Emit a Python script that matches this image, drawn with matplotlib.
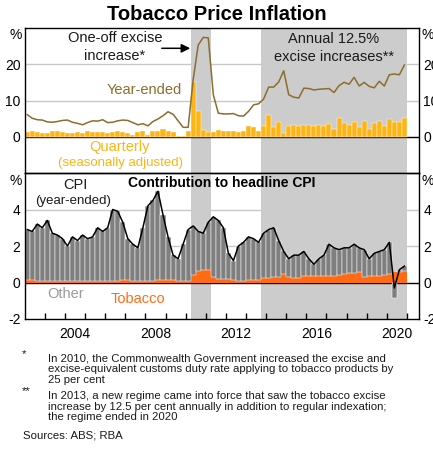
import numpy as np
import matplotlib
matplotlib.use('Agg')
import matplotlib.pyplot as plt
from matplotlib.patches import FancyArrowPatch

plt.rcParams['font.family'] = ['Liberation Sans', 'DejaVu Sans']
plt.rcParams['axes.unicode_minus'] = False

# ---------------- data (quarterly, Mar-2002 .. Dec-2020) ----------------
start_year = 2002
tob_quarterly = [
    1.3, 1.5, 1.3, 1.0, 0.9, 1.5, 1.6, 1.2, 1.0, 0.9, 1.2, 1.0,
    1.7, 1.3, 1.2, 1.2, 1.1, 1.4, 1.5, 1.2, 0.9, 0.6, 1.2, 1.6,
    0.6, 1.7, 1.7, 2.2, 1.5, 1.3, 0.1, 0.1, 1.6, 15.2, 7.2, 1.9,
    1.4, 1.3, 2.0, 1.7, 1.5, 1.5, 1.4, 1.6, 3.0, 2.8, 1.5, 3.0,
    6.1, 2.8, 4.2, 1.1, 3.1, 3.3, 3.1, 3.2, 3.2, 3.1, 3.2, 3.0,
    3.6, 2.1, 5.1, 3.9, 3.2, 4.1, 2.8, 4.3, 2.2, 3.8, 4.4, 3.1,
    5.0, 4.0, 4.1, 5.3]
tob_year_ended = [
    6.1, 5.1, 4.7, 4.6, 4.1, 4.0, 4.2, 4.5, 4.6, 4.0, 3.7, 3.3,
    3.9, 4.4, 4.3, 4.7, 3.9, 4.0, 4.4, 4.6, 4.5, 3.9, 3.3, 3.6,
    3.0, 4.2, 4.9, 5.8, 6.9, 6.2, 4.4, 2.6, 2.6, 15.8, 25.3, 27.4,
    27.3, 11.6, 6.5, 6.3, 6.3, 6.4, 5.8, 5.7, 7.0, 8.8, 9.1, 10.4,
    13.7, 13.7, 15.1, 18.2, 11.6, 10.9, 10.7, 13.4, 13.3, 12.9, 13.1, 13.2,
    13.3, 12.2, 14.1, 15.0, 14.5, 16.4, 14.0, 15.0, 13.9, 13.5, 15.3, 14.0,
    17.1, 17.3, 17.1, 19.8]
cpi_year_ended = [
    2.9, 2.8, 3.2, 3.0, 3.4, 2.7, 2.6, 2.4, 2.0, 2.5, 2.3, 2.6,
    2.4, 2.5, 3.0, 2.8, 3.0, 4.0, 3.9, 3.3, 2.4, 2.1, 1.9, 3.0,
    4.2, 4.5, 5.0, 3.7, 2.5, 1.5, 1.3, 2.1, 2.9, 3.1, 2.8, 2.7,
    3.3, 3.6, 3.4, 3.0, 1.6, 1.2, 2.0, 2.2, 2.5, 2.4, 2.2, 2.7,
    2.9, 3.0, 2.3, 1.7, 1.3, 1.5, 1.5, 1.7, 1.3, 1.0, 1.3, 1.5,
    2.1, 1.9, 1.8, 1.9, 1.9, 2.1, 1.9, 1.8, 1.3, 1.6, 1.7, 1.8,
    2.2, -0.3, 0.7, 0.9]
tob_contribution = [
    0.13, 0.11, 0.10, 0.10, 0.09, 0.09, 0.09, 0.10, 0.10, 0.09, 0.09, 0.08,
    0.09, 0.10, 0.10, 0.10, 0.09, 0.09, 0.10, 0.11, 0.11, 0.09, 0.08, 0.08,
    0.07, 0.10, 0.12, 0.14, 0.16, 0.15, 0.10, 0.06, 0.06, 0.40, 0.63, 0.69,
    0.69, 0.30, 0.17, 0.17, 0.17, 0.16, 0.09, 0.09, 0.13, 0.13, 0.15, 0.22,
    0.24, 0.30, 0.30, 0.44, 0.28, 0.27, 0.27, 0.36, 0.36, 0.36, 0.37, 0.38,
    0.38, 0.36, 0.40, 0.44, 0.50, 0.54, 0.60, 0.32, 0.37, 0.35, 0.36, 0.40,
    0.46, 0.55, 0.60, 0.65]
x_tick_years = list(range(2003, 2022))
x_label_years = [2004, 2008, 2012, 2016, 2020]
shade_periods = [(2010.25, 2011.25), (2013.75, 2021.0)]
top_yticks = [0, 10, 20]
bot_yticks = [-2, 0, 2, 4]

# ---------------- styling ----------------
GOLD = '#FDB515'
OLIVE = '#8C6D2C'
ORANGE = '#FF6B14'
GREY = '#7F7F7F'
SHADE = '#CCCCCC'
GRID = '#C8C8C8'
TXT = '#1a1a1a'

W, H = 433, 453
fig = plt.figure(figsize=(W / 100, H / 100), dpi=100)

def fx(px):
    return px / W

def fy(py):
    return 1 - py / H

L, R = 24.7, 419.0
ax1 = fig.add_axes([fx(L), fy(173), fx(R) - fx(L), fy(28) - fy(173)])
ax2 = fig.add_axes([fx(L), fy(319), fx(R) - fx(L), fy(173) - fy(319)])

n = len(tob_quarterly)
xq = start_year + 0.25 * np.arange(n)
xc = xq + 0.125

tobq = np.array(tob_quarterly)
tobye = np.array(tob_year_ended)
cpi = np.array(cpi_year_ended)
tobc = np.array(tob_contribution)
other = cpi - tobc

for ax, ylim, ticks, grids in [(ax1, (-10, 30), top_yticks, [10, 20]),
                               (ax2, (-2, 6), bot_yticks, [2, 4])]:
    ax.set_xlim(2002.0, 2021.6)
    ax.set_ylim(*ylim)
    for g in grids:
        ax.axhline(g, color=GRID, lw=1.0, zorder=0)
    for a, b in shade_periods:
        ax.axvspan(a, b, color=SHADE, lw=0, zorder=0.5)
    ax.axhline(0, color='black', lw=1.0, zorder=1)
    ax.set_yticks(ticks)
    ax.set_yticklabels([str(t) for t in ticks])
    ax.tick_params(axis='y', length=0, pad=3, labelsize=10, labelleft=True,
                   labelright=True, colors='black')
    for s in ax.spines.values():
        s.set_color('black')
        s.set_linewidth(1.0)
    ax.set_facecolor('none')

# top panel
ax1.bar(xq, tobq, width=0.25, align='edge', color=GOLD, edgecolor='white',
        linewidth=0.3, zorder=2)
ax1.plot(xc, tobye, color=OLIVE, lw=1.1, zorder=3)
ax1.tick_params(axis='x', which='both', length=0, labelbottom=False)

# bottom panel
ax2.bar(xq, tobc, width=0.25, align='edge', color=ORANGE, lw=0, zorder=2)
bottom_other = np.where(other >= 0, tobc, 0)
ax2.bar(xq, other, bottom=bottom_other, width=0.25, align='edge', color=GREY,
        edgecolor='white', linewidth=0.35, zorder=2)
ax2.plot(xc, cpi, color='black', lw=1.1, zorder=3)
ax2.set_xticks(x_tick_years)
ax2.set_xticklabels([])
ax2.set_xticks([y + 0.5 for y in x_label_years], minor=True)
ax2.set_xticklabels([str(y) for y in x_label_years], minor=True)
ax2.tick_params(axis='x', which='major', direction='in', length=4, width=1,
                color='black')
ax2.tick_params(axis='x', which='minor', length=0, pad=6, labelsize=10)

# % labels
for py in (35, 181.5):
    fig.text(fx(21.8), fy(py), '%', ha='right', va='center', fontsize=10)
    fig.text(fx(422.0), fy(py), '%', ha='left', va='center', fontsize=10)

# title
fig.text(0.5, fy(15), 'Tobacco Price Inflation', ha='center', va='center',
         fontsize=14.5, fontweight='bold', color='black')

# top annotations
fig.text(fx(115), fy(38), 'One-off excise', ha='center', va='center',
         fontsize=10.5, color=TXT)
fig.text(fx(115), fy(56.5), 'increase*', ha='center', va='center',
         fontsize=10.5, color=TXT)
arrow = FancyArrowPatch((fx(159), fy(48.3)), (fx(193), fy(48.3)),
                        transform=fig.transFigure, arrowstyle='-|>',
                        mutation_scale=13, color='black', lw=1.1)
fig.patches.append(arrow)
fig.text(fx(334), fy(39.3), 'Annual 12.5%', ha='center', va='center',
         fontsize=10.5, color=TXT)
fig.text(fx(334), fy(57.3), 'excise increases**', ha='center', va='center',
         fontsize=10.5, color=TXT)
fig.text(fx(143.8), fy(90), 'Year-ended', ha='center', va='center',
         fontsize=10.5, color=OLIVE)
fig.text(fx(120), fy(146.7), 'Quarterly', ha='center', va='center',
         fontsize=10.5, color=GOLD)
fig.text(fx(120.8), fy(163.3), '(seasonally adjusted)', ha='center',
         va='center', fontsize=9.5, color=GOLD)

# bottom annotations
fig.text(fx(221.7), fy(183.3), 'Contribution to headline CPI', ha='center',
         va='center', fontsize=10, fontweight='bold', color='black')
fig.text(fx(75), fy(185), 'CPI', ha='center', va='center', fontsize=10.5,
         color=TXT)
fig.text(fx(73.3), fy(201), '(year-ended)', ha='center', va='center',
         fontsize=9.5, color=TXT)
fig.text(fx(65.8), fy(294), 'Other', ha='center', va='center', fontsize=10.5,
         color='#9a9a9a')
fig.text(fx(137.5), fy(299.3), 'Tobacco', ha='center', va='center',
         fontsize=10.5, color=ORANGE)

# footnotes
FN = 8.2
fig.text(fx(22), fy(354), '*', ha='left', va='center', fontsize=FN, color=TXT)
fig.text(fx(22), fy(391.5), '**', ha='left', va='center', fontsize=FN, color=TXT)
notes = [
    (358.3, 'In 2010, the Commonwealth Government increased the excise and'),
    (369.0, 'excise-equivalent customs duty rate applying to tobacco products by'),
    (380.0, '25 per cent'),
    (395.7, 'In 2013, a new regime came into force that saw the tobacco excise'),
    (406.7, 'increase by 12.5 per cent annually in addition to regular indexation;'),
    (417.3, 'the regime ended in 2020'),
]
for py, t in notes:
    fig.text(fx(48), fy(py), t, ha='left', va='center', fontsize=FN, color=TXT)
fig.text(fx(22.7), fy(436), 'Sources: ABS; RBA', ha='left', va='center',
         fontsize=FN, color=TXT)

fig.savefig('out.png', dpi=100)
